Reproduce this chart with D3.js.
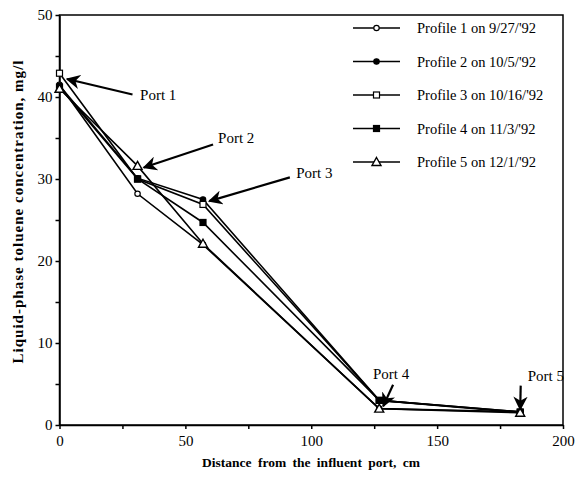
<!DOCTYPE html>
<html>
<head>
<meta charset="utf-8">
<script src="https://cdn.jsdelivr.net/npm/d3@7"></script>
<style>
  body { margin: 0; background: #fff; }
  text { font-family: "Liberation Serif", "Times New Roman", serif; }
</style>
</head>
<body>
<svg id="chart" width="575" height="486"></svg>
<script>
// distances of the five ports, cm
let distances = [0, 31, 57, 127, 183];

// concentration, mg/l, for each profile
let profile1 = [41.5, 28.2, 22.0, 2.0, 1.6];
let profile2 = [41.4, 30.1, 27.5, 3.0, 1.6];
let profile3 = [42.9, 30.0, 26.9, 3.0, 1.5];
let profile4 = [41.2, 30.0, 24.7, 3.0, 1.6];
let profile5 = [41.0, 31.6, 22.1, 2.0, 1.5];

let profileNames = ["Profile 1 on 9/27/'92", "Profile 2 on 10/5/'92", "Profile 3 on 10/16/'92",
                    "Profile 4 on 11/3/'92", "Profile 5 on 12/1/'92"];
let markers = ["openCircle", "filledCircle", "openSquare", "filledSquare", "openTriangle"];

let xTicks = [0, 50, 100, 150, 200];
let yTicks = [0, 10, 20, 30, 40, 50];

// port labels (text position and arrow, in data units)
let portLabels = ["Port 1", "Port 2", "Port 3", "Port 4", "Port 5"];
let portTextPos = [[32, 39.6], [63, 34.4], [94, 30.1], [124.5, 5.6], [186, 5.4]];
let portArrowFrom = [[29, 40.3], [61, 34.2], [91.5, 30.2], [132.5, 4.9], [183.2, 4.8]];
let portArrowTo = [[3, 42.2], [33.5, 31.4], [59.5, 27.3], [128.6, 2.3], [183.0, 1.9]];

let svg = d3.select("#chart");
let mLeft = 59.5, mRight = 563, mTop = 15, mBottom = 425;

let xScale = d3.scaleLinear().domain([0, 200]).range([mLeft, mRight]);
let yScale = d3.scaleLinear().domain([0, 50]).range([mBottom, mTop]);

// frame
svg.append("rect")
    .attr("x", mLeft).attr("y", mTop)
    .attr("width", mRight - mLeft).attr("height", mBottom - mTop)
    .attr("fill", "none").attr("stroke", "#000").attr("stroke-width", 1.5);

// axes
let xAxis = d3.axisBottom(xScale).tickValues(d3.range(0, 201, 25))
    .tickFormat(d => xTicks.includes(d) ? d : "")
    .tickSizeOuter(0).tickSizeInner(4).tickPadding(6);
let yAxis = d3.axisLeft(yScale).tickValues(d3.range(0, 51, 5))
    .tickFormat(d => yTicks.includes(d) ? d : "")
    .tickSizeOuter(0).tickSizeInner(4).tickPadding(3);

let gx = svg.append("g").attr("transform", "translate(0," + mBottom + ")").call(xAxis);
let gy = svg.append("g").attr("transform", "translate(" + mLeft + ",0)").call(yAxis);
[gx, gy].forEach(g => {
    g.select(".domain").attr("stroke-width", 1.5);
    g.selectAll(".tick line").attr("stroke-width", 1.5);
    g.selectAll(".tick text").attr("font-size", 15).attr("font-family", "Liberation Serif").attr("fill", "#000");
});

// axis titles
svg.append("text")
    .attr("x", 311).attr("y", 467)
    .attr("text-anchor", "middle").attr("font-size", 13.5).attr("font-weight", "bold")
    .style("word-spacing", "3px")
    .text("Distance from the influent port, cm");
svg.append("text")
    .attr("transform", "translate(23," + 212 + ") rotate(-90)")
    .attr("text-anchor", "middle").attr("font-size", 15).attr("font-weight", "bold")
    .attr("textLength", 303).attr("lengthAdjust", "spacing")
    .text("Liquid-phase toluene concentration, mg/l");

// marker drawing
function drawMarker(g, type, x, y) {
    if (type == "openCircle" || type == "filledCircle") {
        g.append("circle").attr("cx", x).attr("cy", y).attr("r", 2.7)
            .attr("fill", type == "openCircle" ? "#fff" : "#000")
            .attr("stroke", "#000").attr("stroke-width", 1.2);
    } else if (type == "openSquare" || type == "filledSquare") {
        g.append("rect").attr("x", x - 3).attr("y", y - 3).attr("width", 6).attr("height", 6)
            .attr("fill", type == "openSquare" ? "#fff" : "#000")
            .attr("stroke", "#000").attr("stroke-width", 1.2);
    } else {
        g.append("path")
            .attr("d", "M" + x + "," + (y - 4.5) + "L" + (x + 4.5) + "," + (y + 3.5) + "L" + (x - 4.5) + "," + (y + 3.5) + "Z")
            .attr("fill", "#fff").attr("stroke", "#000").attr("stroke-width", 1.4);
    }
}

let profiles = [profile1, profile2, profile3, profile4, profile5];
let line = d3.line().x(d => xScale(d[0])).y(d => yScale(d[1]));

let plot = svg.append("g");
profiles.forEach((vals, i) => {
    let pts = distances.map((d, j) => [d, vals[j]]);
    plot.append("path").datum(pts).attr("d", line)
        .attr("fill", "none").attr("stroke", "#000").attr("stroke-width", 1.6);
});
profiles.forEach((vals, i) => {
    distances.forEach((d, j) => drawMarker(plot, markers[i], xScale(d), yScale(vals[j])));
});

// legend
let legend = svg.append("g");
profileNames.forEach((name, i) => {
    let y = 28 + i * 33.5;
    legend.append("line").attr("x1", 353).attr("x2", 400).attr("y1", y).attr("y2", y)
        .attr("stroke", "#000").attr("stroke-width", 1.4);
    drawMarker(legend, markers[i], 376.5, y);
    legend.append("text").attr("x", 417).attr("y", y + 5)
        .attr("font-size", 14.5).text(name);
});

// arrowhead
svg.append("defs").append("marker")
    .attr("id", "arrow").attr("viewBox", "0 0 10 10")
    .attr("refX", 9).attr("refY", 5)
    .attr("markerWidth", 6.5).attr("markerHeight", 6.5)
    .attr("markerUnits", "strokeWidth")
    .attr("orient", "auto")
    .append("path").attr("d", "M0,0L10,5L0,10L3,5Z").attr("fill", "#000");

portLabels.forEach((label, i) => {
    svg.append("line")
        .attr("x1", xScale(portArrowFrom[i][0])).attr("y1", yScale(portArrowFrom[i][1]))
        .attr("x2", xScale(portArrowTo[i][0])).attr("y2", yScale(portArrowTo[i][1]))
        .attr("stroke", "#000").attr("stroke-width", 2.2)
        .attr("marker-end", "url(#arrow)");
    svg.append("text")
        .attr("x", xScale(portTextPos[i][0])).attr("y", yScale(portTextPos[i][1]))
        .attr("font-size", 15).text(label);
});
</script>
</body>
</html>
